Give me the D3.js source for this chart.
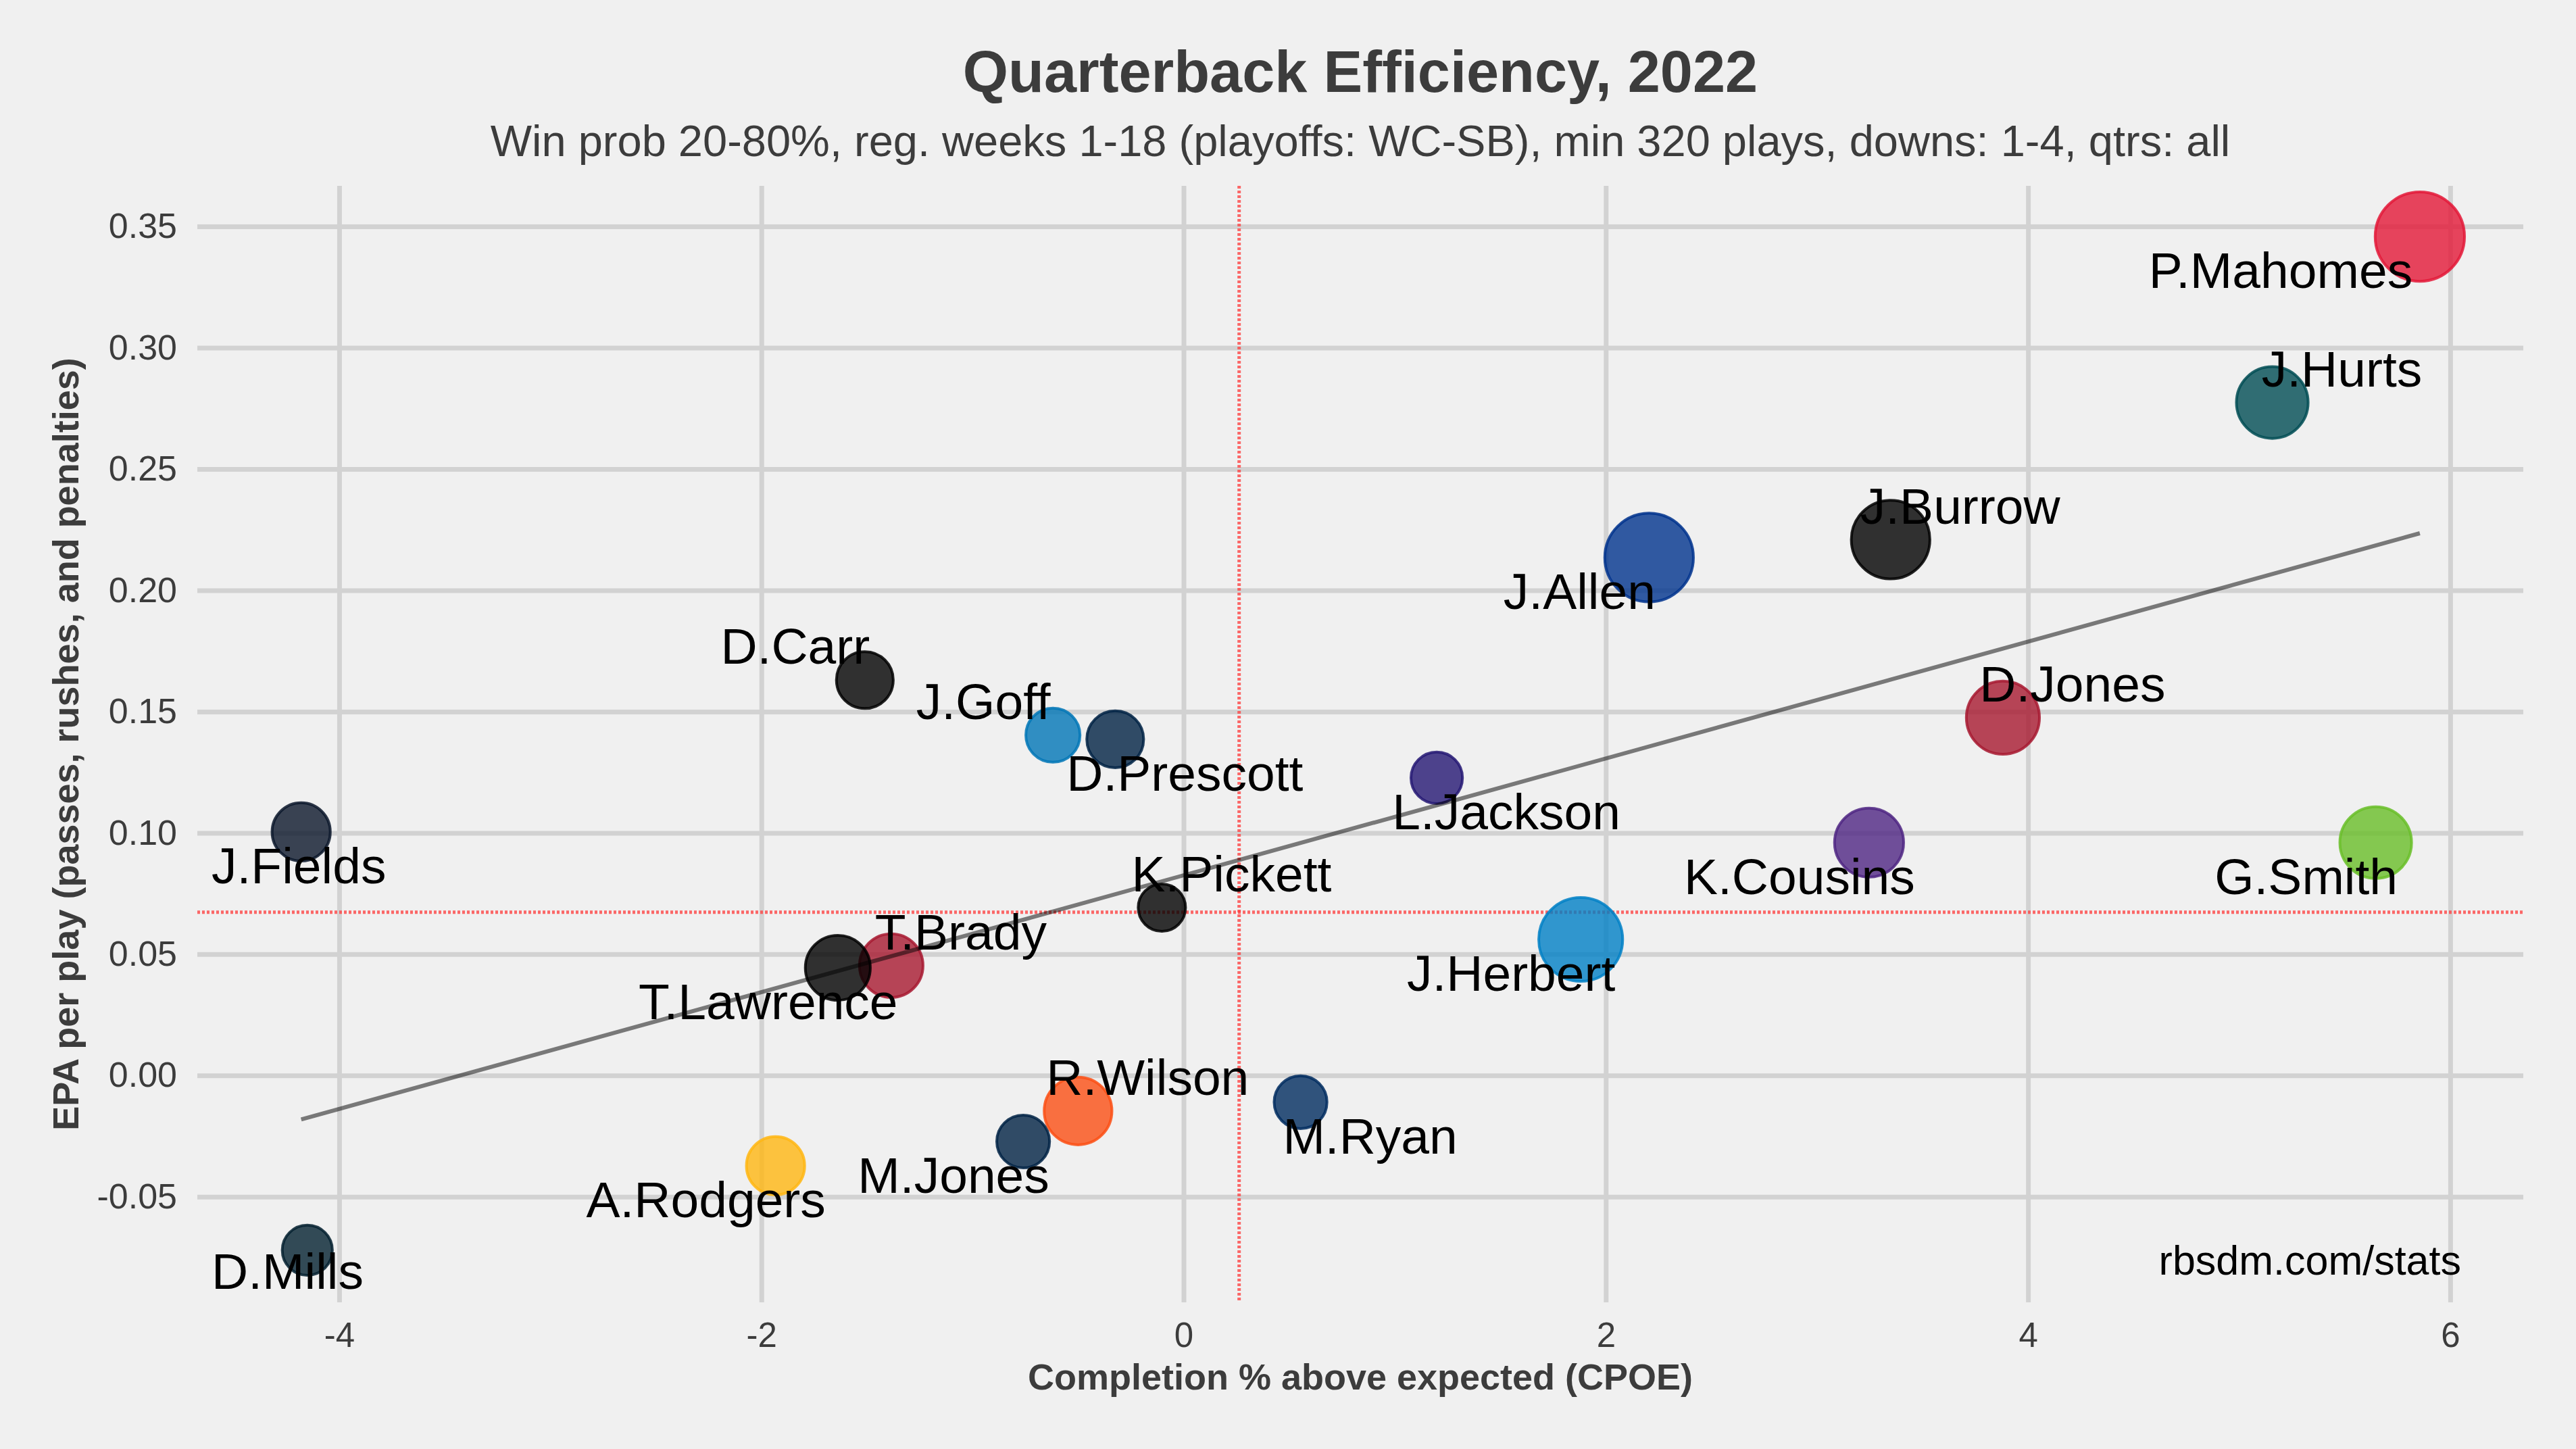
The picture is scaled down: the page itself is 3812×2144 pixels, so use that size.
<!DOCTYPE html>
<html><head><meta charset="utf-8">
<script src="https://cdn.jsdelivr.net/npm/d3@7"></script>
<style>html,body{margin:0;padding:0;background:#F0F0F0;}svg{display:block;}</style>
</head><body><svg id="chart" width="3812" height="2144"></svg>
<script>
// ---------- data ----------
const players = ["P.Mahomes","J.Hurts","J.Burrow","J.Allen","D.Jones","D.Carr","J.Goff","D.Prescott","L.Jackson","J.Fields","K.Cousins","G.Smith","K.Pickett","T.Brady","T.Lawrence","J.Herbert","R.Wilson","M.Ryan","M.Jones","A.Rodgers","D.Mills"];
const cpoe = [5.856, 5.157, 3.349, 2.205, 3.881, -1.51, -0.619, -0.324, 1.199, -4.18, 3.247, 5.647, -0.103, -1.385, -1.638, 1.881, -0.50, 0.554, -0.76, -1.933, -4.151];
const epaPerPlay = [0.3458, 0.2774, 0.2209, 0.2135, 0.1475, 0.163, 0.1403, 0.1386, 0.1227, 0.1004, 0.096, 0.096, 0.0692, 0.0453, 0.0444, 0.0561, -0.0146, -0.011, -0.0272, -0.0372, -0.072];
const plays = [746, 557, 627, 738, 571, 419, 396, 419, 374, 431, 531, 557, 341, 479, 492, 685, 518, 385, 385, 431, 363];
const teamColors = ["#E31837","#004C54","#000000","#00338D","#A71930","#000000","#0076B6","#002244","#241773","#0B162A","#4F2683","#69BE28","#000000","#A71930","#000000","#0080C6","#FB4F14","#002C5F","#002244","#FFB612","#03202F"];
const xTicks = [-4, -2, 0, 2, 4, 6];
const xTickLabels = ["-4", "-2", "0", "2", "4", "6"];
const yTicks = [-0.05, 0, 0.05, 0.10, 0.15, 0.20, 0.25, 0.30, 0.35];
const yTickLabels = ["-0.05", "0.00", "0.05", "0.10", "0.15", "0.20", "0.25", "0.30", "0.35"];
const refCpoe = 0.263;
const refEpa = 0.0673;
const titleText = "Quarterback Efficiency, 2022";
const subtitleText = "Win prob 20-80%, reg. weeks 1-18 (playoffs: WC-SB), min 320 plays, downs: 1-4, qtrs: all";
const xTitle = "Completion % above expected (CPOE)";
const yTitle = "EPA per play (passes, rushes, and penalties)";
const captionText = "rbsdm.com/stats";

// ---------- layout (label nudge directions: [horizontal, vertical]) ----------
const labelNudge = [[-2,1],[1,-1],[1,-1],[-1,1],[1,-1],[-1,-1],[-1,-1],[1,1],[1,1],[-1,1],[-1,1],[-1,1],[1,-1],[1,-1],[-1,1],[-1,1],[1,-1],[1,1],[-1,1],[-1,1],[-1,1]];

const font = "'Liberation Sans', Arial, Helvetica, sans-serif";
const panel = {left: 292, right: 3734, top: 275, bottom: 1927};
const svg = d3.select("#chart");
svg.append("rect").attr("width", 3812).attr("height", 2144).attr("fill", "#F0F0F0");

const x = d3.scaleLinear().domain([-4.672, 6.346]).range([panel.left, panel.right]);
const y = d3.scaleLinear().domain([-0.0935, 0.3667]).range([panel.bottom, panel.top]);
const r = d3.scaleSqrt().domain([320, 760]).range([33, 67]);

// axes + gridlines
const yAxis = d3.axisLeft(y).tickValues(yTicks).tickFormat((d, i) => yTickLabels[i])
  .tickSize(-(panel.right - panel.left)).tickPadding(30);
const gy = svg.append("g").attr("transform", `translate(${panel.left},0)`).call(yAxis);
const xAxis = d3.axisBottom(x).tickValues(xTicks).tickFormat((d, i) => xTickLabels[i])
  .tickSize(-(panel.bottom - panel.top)).tickPadding(30);
const gx = svg.append("g").attr("transform", `translate(0,${panel.bottom})`).call(xAxis);
[gx, gy].forEach(g => {
  g.select(".domain").remove();
  g.selectAll(".tick line").attr("stroke", "#D2D2D2").attr("stroke-width", 7);
  g.selectAll(".tick text").attr("fill", "#3C3C3C").attr("font-family", font).attr("font-size", 52);
});
gx.selectAll(".tick text").attr("font-size", 51);

// reference lines
svg.append("line").attr("x1", x(refCpoe)).attr("x2", x(refCpoe)).attr("y1", panel.top).attr("y2", panel.bottom)
  .attr("stroke", "#FF3A3A").attr("stroke-opacity", 0.75).attr("stroke-width", 5).attr("stroke-dasharray", "4,3");
svg.append("line").attr("x1", panel.left).attr("x2", panel.right).attr("y1", y(refEpa)).attr("y2", y(refEpa))
  .attr("stroke", "#FF3A3A").attr("stroke-opacity", 0.75).attr("stroke-width", 5).attr("stroke-dasharray", "4,3");

// points
const data = players.map((p, i) => ({name: p, cx: cpoe[i], cy: epaPerPlay[i], n: plays[i], col: teamColors[i], nudge: labelNudge[i]}));
svg.append("g").selectAll("circle").data(data).join("circle")
  .attr("cx", d => x(d.cx)).attr("cy", d => y(d.cy)).attr("r", d => r(d.n))
  .attr("fill", d => d.col).attr("fill-opacity", 0.8)
  .attr("stroke", d => d.col).attr("stroke-opacity", 0.85).attr("stroke-width", 4);

// linear fit
const mx = d3.mean(cpoe), my = d3.mean(epaPerPlay);
let sxy = 0, sxx = 0;
cpoe.forEach((v, i) => { sxy += (v - mx) * (epaPerPlay[i] - my); sxx += (v - mx) * (v - mx); });
const slope = sxy / sxx, intercept = my - slope * mx;
const [xmin, xmax] = d3.extent(cpoe);
svg.append("path").datum([xmin, xmax])
  .attr("d", d3.line().x(d => x(d)).y(d => y(intercept + slope * d)))
  .attr("stroke", "#000").attr("stroke-opacity", 0.5).attr("stroke-width", 6).attr("fill", "none");

// labels
const labelSize = 75;
const lg = svg.append("g");
data.forEach(d => {
  let cx = x(d.cx) + d.nudge[0] * 103;
  let cy = y(d.cy) + d.nudge[1] * 50;
  const t = lg.append("text").text(d.name).attr("font-family", font).attr("font-size", labelSize)
    .attr("fill", "#000").attr("text-anchor", "middle");
  const w = t.node().getComputedTextLength();
  if (cx - w / 2 < panel.left + 21) cx = panel.left + 21 + w / 2;
  if (cx + w / 2 > panel.right - 21) cx = panel.right - 21 - w / 2;
  if (cy > panel.bottom - 46) cy = panel.bottom - 46;
  t.attr("x", cx).attr("y", cy + labelSize * 0.35);
});

// caption
svg.append("text").text(captionText).attr("x", 3642).attr("y", 1886).attr("text-anchor", "end")
  .attr("font-family", font).attr("font-size", 61).attr("fill", "#000");

// titles
const cxPanel = (panel.left + panel.right) / 2;
svg.append("text").text(titleText).attr("x", cxPanel).attr("y", 136).attr("text-anchor", "middle")
  .attr("font-family", font).attr("font-weight", "bold").attr("font-size", 86.5).attr("fill", "#3C3C3C");
svg.append("text").text(subtitleText).attr("x", cxPanel).attr("y", 231).attr("text-anchor", "middle")
  .attr("font-family", font).attr("font-size", 65).attr("fill", "#3C3C3C");
svg.append("text").text(xTitle).attr("x", cxPanel).attr("y", 2056).attr("text-anchor", "middle")
  .attr("font-family", font).attr("font-weight", "bold").attr("font-size", 54).attr("fill", "#3C3C3C");
svg.append("text").text(yTitle).attr("transform", `translate(116,${(panel.top + panel.bottom) / 2}) rotate(-90)`)
  .attr("text-anchor", "middle").attr("font-family", font).attr("font-weight", "bold").attr("font-size", 54).attr("fill", "#3C3C3C");
</script>
</body></html>
